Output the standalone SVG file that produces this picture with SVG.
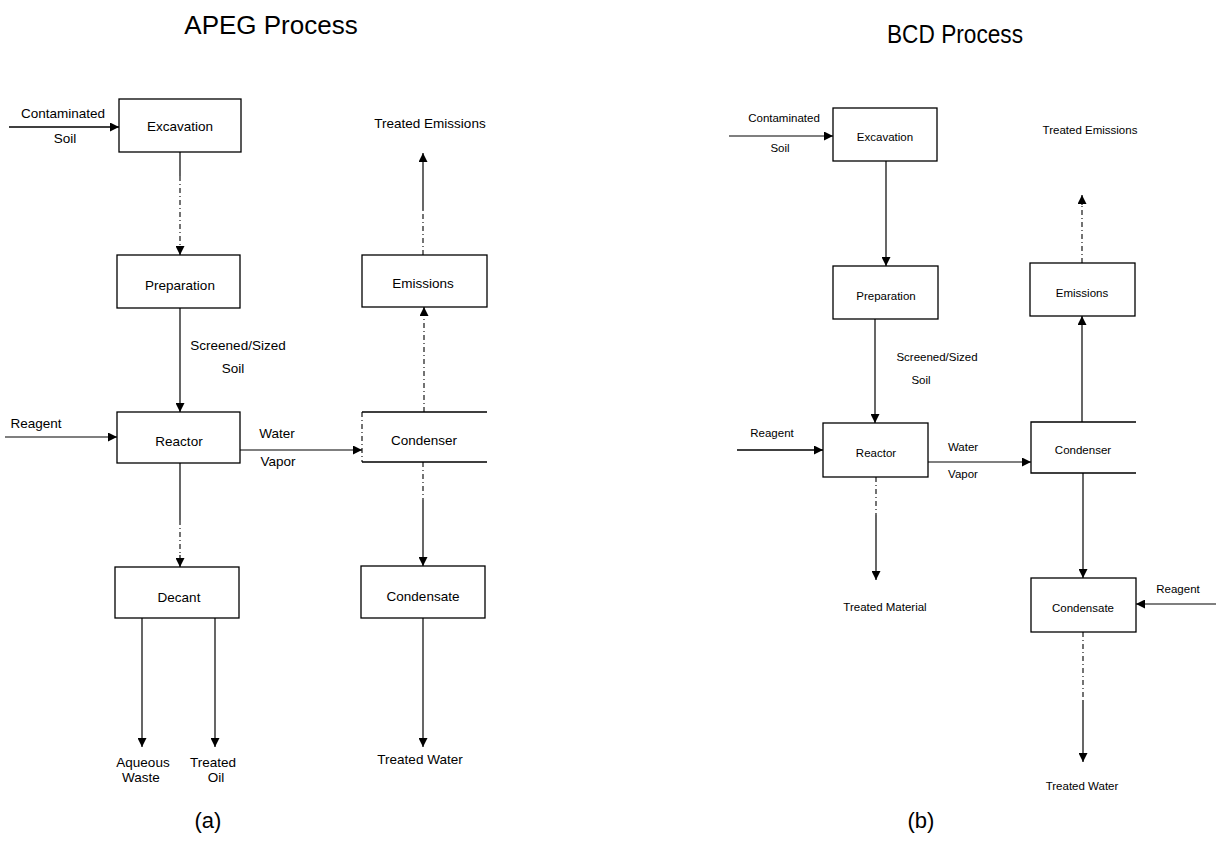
<svg xmlns="http://www.w3.org/2000/svg" width="1216" height="866" viewBox="0 0 1216 866">
  <style>
    .box{fill:#fff;stroke:#000;stroke-width:1.3}
    .open{fill:none;stroke:#000;stroke-width:1.3}
    .ln{fill:none;stroke:#000;stroke-width:1.2}
    .dot{fill:none;stroke:#000;stroke-width:1.1;stroke-dasharray:5 3 1 3}
    .t{font-family:"Liberation Sans",Arial,sans-serif;fill:#000;text-anchor:middle}
    .l{font-size:13.5px}
    .r{font-size:11.5px}
  </style>
  <defs>
    <marker id="arrow" viewBox="0 0 10 10" refX="10" refY="5" markerWidth="9" markerHeight="9" markerUnits="userSpaceOnUse" orient="auto">
      <path d="M0,0 L10,5 L0,10 z" fill="#000"/>
    </marker>
  </defs>
  <rect width="1216" height="866" fill="#fff"/>

  <!-- titles and captions -->
  <text class="t" x="271" y="34" style="font-size:26px">APEG Process</text>
  <text x="887" y="43" textLength="136" lengthAdjust="spacingAndGlyphs" style="font-family:'Liberation Sans',Arial,sans-serif;font-size:26px">BCD Process</text>
  <text class="t" x="208" y="828" style="font-size:22px">(a)</text>
  <text class="t" x="921" y="828" style="font-size:22px">(b)</text>

  <!-- connectors -->
  <g id="connectors">
    <!-- APEG -->
    <line class="ln" x1="9" y1="127" x2="119" y2="127" style="stroke-width:1.5" marker-end="url(#arrow)"/>
    <line class="ln" x1="180" y1="152" x2="180" y2="176"/>
    <line class="dot" x1="180" y1="176" x2="180" y2="246"/>
    <line class="ln" x1="180" y1="246" x2="180" y2="255" marker-end="url(#arrow)"/>
    <line class="ln" x1="180" y1="308" x2="180" y2="412" marker-end="url(#arrow)"/>
    <line class="ln" x1="5" y1="437" x2="117" y2="437" marker-end="url(#arrow)"/>
    <line class="ln" x1="240" y1="450" x2="362" y2="450" marker-end="url(#arrow)"/>
    <line class="ln" x1="180" y1="463" x2="180" y2="520"/>
    <line class="dot" x1="180" y1="520" x2="180" y2="555"/>
    <line class="ln" x1="180" y1="555" x2="180" y2="567" marker-end="url(#arrow)"/>
    <line class="ln" x1="142" y1="618" x2="142" y2="747" marker-end="url(#arrow)"/>
    <line class="ln" x1="215" y1="618" x2="215" y2="747" marker-end="url(#arrow)"/>
    <line class="dot" x1="424" y1="412" x2="424" y2="316"/>
    <line class="ln" x1="424" y1="316" x2="424" y2="307" marker-end="url(#arrow)"/>
    <line class="dot" x1="423" y1="255" x2="423" y2="210"/>
    <line class="ln" x1="423" y1="210" x2="423" y2="153" marker-end="url(#arrow)"/>
    <line class="dot" x1="423" y1="462" x2="423" y2="500"/>
    <line class="ln" x1="423" y1="500" x2="423" y2="566" marker-end="url(#arrow)"/>
    <line class="ln" x1="423" y1="618" x2="423" y2="747" marker-end="url(#arrow)"/>
    <!-- BCD -->
    <line class="ln" x1="729" y1="136" x2="833" y2="136" marker-end="url(#arrow)"/>
    <line class="ln" x1="886" y1="161" x2="886" y2="266" marker-end="url(#arrow)"/>
    <line class="ln" x1="875" y1="319" x2="875" y2="423" marker-end="url(#arrow)"/>
    <line class="ln" x1="737" y1="450" x2="823" y2="450" style="stroke-width:1.4" marker-end="url(#arrow)"/>
    <line class="ln" x1="928" y1="462" x2="1031" y2="462" marker-end="url(#arrow)"/>
    <line class="dot" x1="876" y1="477" x2="876" y2="515"/>
    <line class="ln" x1="876" y1="515" x2="876" y2="580" marker-end="url(#arrow)"/>
    <line class="ln" x1="1082" y1="422" x2="1082" y2="316" marker-end="url(#arrow)"/>
    <line class="dot" x1="1082" y1="263" x2="1082" y2="205"/>
    <line class="ln" x1="1082" y1="205" x2="1082" y2="195" marker-end="url(#arrow)"/>
    <line class="ln" x1="1083" y1="473" x2="1083" y2="578" marker-end="url(#arrow)"/>
    <line class="ln" x1="1216" y1="604" x2="1136" y2="604" marker-end="url(#arrow)"/>
    <line class="dot" x1="1083" y1="632" x2="1083" y2="700"/>
    <line class="ln" x1="1083" y1="700" x2="1083" y2="762" marker-end="url(#arrow)"/>
  </g>

  <!-- connector labels -->
  <g id="labels">
    <text class="t l" x="63" y="118">Contaminated</text>
    <text class="t l" x="65" y="143">Soil</text>
    <text class="t l" x="238" y="350">Screened/Sized</text>
    <text class="t l" x="233" y="373">Soil</text>
    <text class="t l" x="36" y="428">Reagent</text>
    <text class="t l" x="277" y="438">Water</text>
    <text class="t l" x="278" y="466">Vapor</text>
    <text class="t l" x="430" y="128">Treated Emissions</text>
    <text class="t l" x="143" y="767">Aqueous</text>
    <text class="t l" x="141" y="782">Waste</text>
    <text class="t l" x="213" y="767">Treated</text>
    <text class="t l" x="216" y="782">Oil</text>
    <text class="t l" x="420" y="764">Treated Water</text>

    <text class="t r" x="784" y="122">Contaminated</text>
    <text class="t r" x="780" y="152">Soil</text>
    <text class="t r" x="937" y="361">Screened/Sized</text>
    <text class="t r" x="921" y="384">Soil</text>
    <text class="t r" x="772" y="437">Reagent</text>
    <text class="t r" x="963" y="451">Water</text>
    <text class="t r" x="963" y="478">Vapor</text>
    <text class="t r" x="1090" y="134">Treated Emissions</text>
    <text class="t r" x="885" y="611">Treated Material</text>
    <text class="t r" x="1178" y="593">Reagent</text>
    <text class="t r" x="1082" y="790">Treated Water</text>
  </g>

  <!-- APEG process steps -->
  <g id="apeg-excavation"><rect class="box" x="119" y="99" width="122" height="53"/><text class="t l" x="180" y="131">Excavation</text></g>
  <g id="apeg-preparation"><rect class="box" x="117" y="255" width="123" height="53"/><text class="t l" x="180" y="290">Preparation</text></g>
  <g id="apeg-reactor"><rect class="box" x="117" y="412" width="123" height="51"/><text class="t l" x="179" y="446">Reactor</text></g>
  <g id="apeg-decant"><rect class="box" x="115" y="567" width="124" height="51"/><text class="t l" x="179" y="602">Decant</text></g>
  <g id="apeg-emissions"><rect class="box" x="362" y="255" width="125" height="52"/><text class="t l" x="423" y="288">Emissions</text></g>
  <g id="apeg-condenser"><path class="open" d="M487,412 H362 M362,462 H487"/><line class="dot" x1="362" y1="412" x2="362" y2="462"/><text class="t l" x="424" y="445">Condenser</text></g>
  <g id="apeg-condensate"><rect class="box" x="361" y="566" width="124" height="52"/><text class="t l" x="423" y="601">Condensate</text></g>

  <!-- BCD process steps -->
  <g id="bcd-excavation"><rect class="box" x="833" y="108" width="104" height="53"/><text class="t r" x="885" y="141">Excavation</text></g>
  <g id="bcd-preparation"><rect class="box" x="833" y="266" width="105" height="53"/><text class="t r" x="886" y="300">Preparation</text></g>
  <g id="bcd-reactor"><rect class="box" x="823" y="423" width="105" height="54"/><text class="t r" x="876" y="457">Reactor</text></g>
  <g id="bcd-emissions"><rect class="box" x="1030" y="263" width="105" height="53"/><text class="t r" x="1082" y="297">Emissions</text></g>
  <g id="bcd-condenser"><path class="open" d="M1136,422 H1031 V473 H1136"/><text class="t r" x="1083" y="454">Condenser</text></g>
  <g id="bcd-condensate"><rect class="box" x="1031" y="578" width="105" height="54"/><text class="t r" x="1083" y="612">Condensate</text></g>
</svg>
